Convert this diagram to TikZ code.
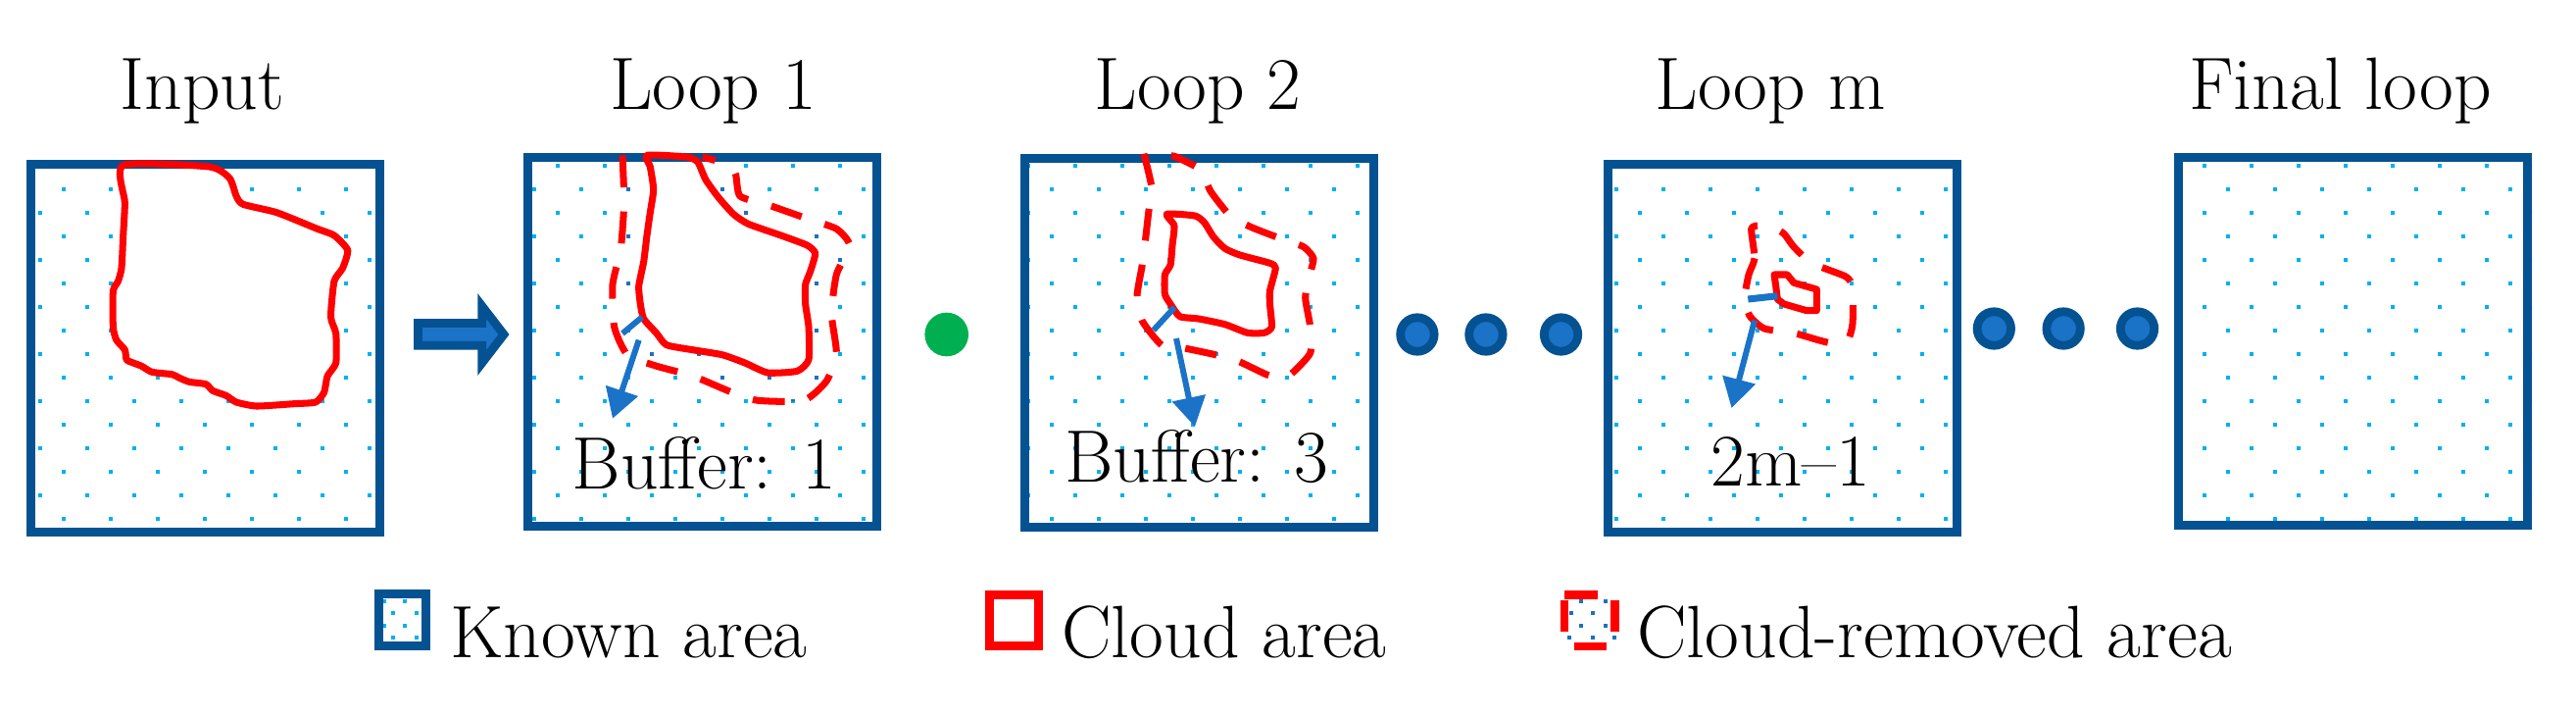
\documentclass[tikz,border=0pt]{standalone}
\usetikzlibrary{arrows.meta}
\definecolor{boxblue}{RGB}{4,82,146}
\definecolor{fillblue}{RGB}{27,115,200}
\definecolor{dotblue}{RGB}{0,176,240}
\definecolor{darkdot}{RGB}{30,112,195}
\definecolor{cloudred}{RGB}{255,0,0}
\definecolor{dotgreen}{RGB}{0,176,80}
\newcommand{\bigfont}{\fontsize{21.5pt}{25pt}\selectfont}
\newcommand{\dotlattice}[3]{%
  \foreach \i in {#2,...,#3}{%
    \foreach \j in {-1,...,16}{%
      \pgfmathtruncatemacro{\dodd}{mod(\i+\j+100,2)}%
      \ifnum\dodd=0
        \fill[#1] ({40.7+24*\i-2},{169.3+24*\j-2}) rectangle ++(4,4);
      \fi
    }}}
\newcommand{\cloudfill}[1]{\fill[white] plot[smooth cycle,tension=0.35] coordinates {#1};}
\newcommand{\cloudline}[1]{\draw[cloud] plot[smooth cycle,tension=0.35] coordinates {#1};}
\newcommand{\CloudA}{(125.7,168.3) (213.5,170) (234.2,181.7) (241.1,200) (248,208.3) (282.4,216.7) (323.7,233.3) (340.9,240) (354.7,255) (349.6,273.3) (340.9,286.7) (337.5,323.3) (342.7,340) (342.7,370) (334.1,383.3) (330.6,400) (322,410) (299.6,411.7) (261.7,414) (241.1,410) (230.7,403.3) (217,398.3) (210.1,391.7) (192.9,389.3) (182.5,385) (175.6,381.7) (155,379.3) (144.6,373.3) (136,370) (129.1,366.7) (127.4,356.7) (118.8,346.7) (115.4,333.3) (115.4,296.7) (120.5,286.7) (124,273.3) (125.7,240) (127.4,206.7)}
\newcommand{\CloudB}{(660,158.3) (700,160) (711.7,165) (720,183.3) (733.3,201.7) (748.3,218.3) (763.3,228.3) (796.7,240) (823.3,250) (831.7,258.3) (826.7,276.7) (821.7,290) (821.7,310) (825,333.3) (825,366.7) (813.3,378.3) (783.3,380) (760,370) (736.7,361.7) (706.7,356.7) (680,351.7) (670,340) (656.7,325) (653.3,310) (651.7,291.7) (656.7,266.7) (660,240) (663.3,216.7) (666.7,193.3) (663.3,170)}
\newcommand{\RingB}{(635,158.3) (636.7,206.7) (633.3,253.3) (625,290) (626.7,333.3) (640,361.7) (670,373.3) (706.7,383.3) (746.7,400) (773.3,408.3) (820,408.3) (843.3,388.3) (853.3,360) (848.3,320) (853.3,280) (866.7,250) (853.3,233.3) (820,221.7) (786.7,210) (755,200) (750,176.7) (733.3,165) (716.7,160)}
\newcommand{\CloudC}{(1190.3,218.3) (1219,220) (1228.5,226.7) (1238.1,241.7) (1249.6,253.3) (1264.9,260) (1295.5,268.3) (1301.3,273.3) (1295.5,296.7) (1295.5,310) (1297.4,333.3) (1289.8,339.3) (1272.6,339.3) (1249.6,330.7) (1222.8,325) (1203.7,322.7) (1194.1,310) (1188.4,300) (1188.4,280) (1194.1,270) (1196,250) (1197.9,230)}
\newcommand{\RingC}{(1167,156.7) (1175,191.7) (1171.7,216.7) (1168.3,246.7) (1165,271.7) (1160,301.7) (1165,326.7) (1185,351.7) (1208.3,355) (1240,361.7) (1263.3,368.3) (1291.7,381.7) (1305,385) (1316.7,381.7) (1336.7,360) (1336.7,333.3) (1331.7,303.3) (1336.7,278.3) (1340,263.3) (1330,251.7) (1306.7,243.3) (1276.7,231.7) (1255,220) (1235,195) (1225,173.3) (1200,160) (1195,159)}
\newcommand{\RingD}{(1786.7,233.3) (1790,263.3) (1784,280) (1780,303.3) (1785,322) (1800,335) (1831.7,340) (1855,346.7) (1870,350) (1885,346.7) (1890,330) (1890,293.3) (1883,282) (1848.3,268.3) (1830,251.7) (1820,238.3) (1808.3,231.7) (1795,230)}
\begin{document}
\begin{tikzpicture}[x=0.01cm,y=-0.01cm,
  frame/.style={draw=boxblue, line width=2.56pt, minimum width=3.56cm, minimum height=3.75cm, inner sep=0pt},
  cloud/.style={draw=cloudred, line width=2pt, line join=round},
  cloudbuf/.style={cloud, dash pattern=on 9.3pt off 7pt},
  bufline/.style={draw=fillblue, line width=1.7pt},
  bufarrow/.style={bufline, -{Triangle[length=8.5pt,width=9.5pt]}},
  label/.style={font=\bigfont, anchor=base, inner sep=0pt},
  legtext/.style={font=\bigfont, anchor=base west, inner sep=0pt},
  etc/.style={circle, draw=boxblue, fill=fillblue, line width=2.5pt, minimum size=0.344cm, inner sep=0pt}]
\useasboundingbox (0,0) rectangle (2628,730);

% ---------- dot patterns ----------
\begin{scope}\clip (27.6,163) rectangle (391.6,547); \dotlattice{dotblue}{-1}{15}\end{scope}
\begin{scope}\clip (533,157) rectangle (900,540); \dotlattice{dotblue}{20}{36}\end{scope}
\begin{scope}\clip (533,157) rectangle (900,540);
  \clip plot[smooth,tension=0.35] coordinates {\RingB} -- cycle;
  \dotlattice{darkdot}{20}{36}\end{scope}
\begin{scope}\clip (1041,157) rectangle (1406,542); \dotlattice{dotblue}{41}{57}\end{scope}
\begin{scope}\clip (1636,163) rectangle (2001,547); \dotlattice{dotblue}{66}{82}\end{scope}
\begin{scope}\clip (2218,156) rectangle (2583,540); \dotlattice{dotblue}{90}{106}\end{scope}

% ---------- cloud interiors ----------
\cloudfill{\CloudA}
\cloudfill{\CloudB}
\cloudfill{\CloudC}
\fill[white] (1810,280) -- (1823.3,280) -- (1830,288.3) -- (1853.3,295) -- (1853.3,316.7) -- (1843.3,316.7) -- (1820,310) -- (1813.3,305) -- (1811.7,291.7) -- cycle;

% ---------- frames ----------
\node[frame] (b1) at (209.6,355) {};
\node[frame] (b2) at (716.5,348.5) {};
\node[frame] (b3) at (1223.5,349.5) {};
\node[frame] (b4) at (1818.5,355) {};
\node[frame] (b5) at (2400.5,348) {};

% ---------- titles ----------
\node[label] (t1) at (206.5,111.7) {Input};
\node[label] (t2) at (727.6,111.7) {Loop 1};
\node[label] (t3) at (1222,111.7) {Loop 2};
\node[label] (t4) at (1806,111.7) {Loop m};
\node[label] (t5) at (2387.5,111.7) {Final loop};

% ---------- clouds ----------
\cloudline{\CloudA}
\cloudline{\CloudB}
\draw[cloudbuf] plot[smooth,tension=0.35] coordinates {\RingB};
\cloudline{\CloudC}
\draw[cloudbuf] plot[smooth,tension=0.35] coordinates {\RingC};
\draw[cloud] (1810,280) -- (1823.3,280) -- (1830,288.3) -- (1853.3,295) -- (1853.3,316.7) -- (1843.3,316.7) -- (1820,310) -- (1813.3,305) -- (1811.7,291.7) -- cycle;
\draw[cloudbuf] plot[smooth cycle,tension=0.35] coordinates {\RingD};

% ---------- buffer marks ----------
\coordinate (s2a) at (655,323.3); \coordinate (s2b) at (635,340);
\coordinate (a2a) at (651.7,346.7); \coordinate (a2b) at (625,426.7);
\draw[bufline] (s2a) -- (s2b);
\draw[bufarrow] (a2a) -- (a2b);
\coordinate (s3a) at (1198.3,313.3); \coordinate (s3b) at (1176.7,336.7);
\coordinate (a3a) at (1200,345); \coordinate (a3b) at (1219,435);
\draw[bufline] (s3a) -- (s3b);
\draw[bufarrow] (a3a) -- (a3b);
\coordinate (s4a) at (1783.3,305); \coordinate (s4b) at (1813.3,301.7);
\coordinate (a4a) at (1790,326.7); \coordinate (a4b) at (1766.5,416);
\draw[bufline, line width=2pt] (s4a) -- (s4b);
\draw[bufarrow] (a4a) -- (a4b);

\node[label] (buf1) at (718.3,498.3) {Buffer: 1};
\node[label] (buf3) at (1220.9,491.7) {Buffer: 3};
\node[label] (bufm) at (1826.8,495) {2m\textendash 1};

% ---------- between boxes ----------
\draw[draw=boxblue, fill=fillblue, line width=2.5pt, line join=miter]
  (426.4,329.5) -- (491.7,329.5) -- (491.7,312) -- (514,341) -- (491.7,370) -- (491.7,352.2) -- (426.4,352.2) -- cycle;
\node[circle, fill=dotgreen, minimum size=0.446cm, inner sep=0pt] (g1) at (965.7,341) {};
\node[etc] (e1) at (1445.9,341) {};
\node[etc] (e2) at (1515.9,341) {};
\node[etc] (e3) at (1592.5,341) {};
\node[etc] (e4) at (2034.3,335) {};
\node[etc] (e5) at (2105.1,335) {};
\node[etc] (e6) at (2180.5,335) {};

% ---------- legend ----------
\begin{scope}\clip (382,601) rectangle (439.3,662.7);
  \foreach \p in {(391.5,613.3),(412.5,613.3),(401,625),(424.6,625),(391.5,637.7),(412.5,637.7),(401,650),(424.6,650)}
    \fill[dotblue] \p ++(-2,-2) rectangle ++(4,4);
\end{scope}
\node[draw=boxblue, line width=2.56pt, minimum width=0.484cm, minimum height=0.527cm, inner sep=0pt] (k1) at (410.6,631.9) {};
\node[legtext] (k1t) at (458.4,670) {Known area};
\node[draw=cloudred, line width=2.56pt, minimum width=0.503cm, minimum height=0.52cm, inner sep=0pt] (c1) at (1034.2,632.2) {};
\node[legtext] (c1t) at (1082.6,670) {Cloud area};
\foreach \p in {(1612.5,613.3),(1637.5,613.3),(1602.7,625),(1625,625),(1612.5,637.7),(1637.5,637.7),(1601.3,650),(1625,650),(1647.3,650)}
  \fill[darkdot] \p ++(-2,-2) rectangle ++(4,4);
\coordinate (r1) at (1596,606.5); \coordinate (r2) at (1629.5,606.5);
\coordinate (r3) at (1605.8,659.2); \coordinate (r4) at (1639.3,659.2);
\coordinate (r5) at (1596.2,612.3); \coordinate (r6) at (1596.2,644.3);
\coordinate (r7) at (1647.4,612.3); \coordinate (r8) at (1647.4,644.3);
\draw[draw=cloudred, line width=2.4pt] (r1) -- (r2) (r3) -- (r4) (r5) -- (r6) (r7) -- (r8);
\node[legtext] (cr1t) at (1669.6,670) {Cloud-removed area};
\end{tikzpicture}
\end{document}
